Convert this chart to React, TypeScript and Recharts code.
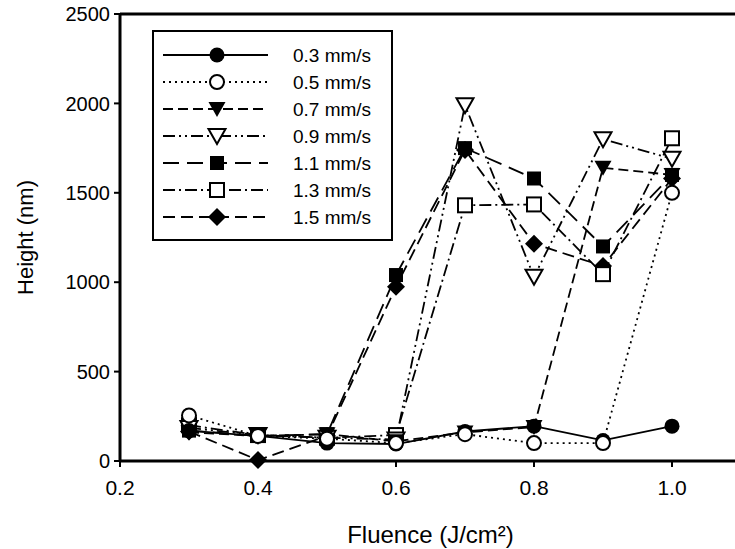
import { LineChart, Line, XAxis, YAxis, ReferenceLine } from "recharts";

// Fluence (J/cm2) and measured height (nm) for each scan speed
const fluence = [0.3, 0.4, 0.5, 0.6, 0.7, 0.8, 0.9, 1.0];
const h03 = [170, 140, 100, 95, 165, 195, 115, 195];
const h05 = [255, 140, 125, 100, 150, 100, 100, 1500];
const h07 = [160, 140, 150, 110, 160, 190, 1640, 1600];
const h09 = [185, 145, 130, 120, 1990, 1030, 1800, 1690];
const h11 = [170, 140, 150, 1040, 1750, 1580, 1200, 1600];
const h13 = [200, 145, 130, 145, 1430, 1435, 1045, 1805];
const h15 = [165, 5, 140, 975, 1740, 1215, 1090, 1580];

const xTicks = [0.2, 0.4, 0.6, 0.8, 1.0];
const yTicks = [0, 500, 1000, 1500, 2000, 2500];

const FONT = '"Liberation Sans", Arial, Helvetica, sans-serif';

const series = [
  { key: "s03", name: "0.3 mm/s", values: h03, dash: undefined, shape: "circleFill" },
  { key: "s05", name: "0.5 mm/s", values: h05, dash: "2 4", shape: "circleOpen" },
  { key: "s07", name: "0.7 mm/s", values: h07, dash: "10 5", shape: "triFill" },
  { key: "s09", name: "0.9 mm/s", values: h09, dash: "12 4 2 4 2 4", shape: "triOpen" },
  { key: "s11", name: "1.1 mm/s", values: h11, dash: "16 8", shape: "squareFill" },
  { key: "s13", name: "1.3 mm/s", values: h13, dash: "12 4 2 4", shape: "squareOpen" },
  { key: "s15", name: "1.5 mm/s", values: h15, dash: "12 6", shape: "diamondFill" },
];

const data = fluence.map((f, i) => {
  const row: Record<string, number> = { f };
  series.forEach((s) => (row[s.key] = s.values[i]));
  return row;
});

// order drawn: later ones sit on top
const drawOrder = ["s15", "s13", "s11", "s09", "s07", "s03", "s05"];

function Marker({ shape, cx, cy }: { shape: string; cx: number; cy: number }) {
  if (cx == null || cy == null) return null;
  switch (shape) {
    case "circleFill":
      return <circle cx={cx} cy={cy} r={7.5} fill="#000" />;
    case "circleOpen":
      return <circle cx={cx} cy={cy} r={7} fill="#fff" stroke="#000" strokeWidth={2} />;
    case "triFill":
      return <polygon points={`${cx - 8.5},${cy - 7} ${cx + 8.5},${cy - 7} ${cx},${cy + 8}`} fill="#000" />;
    case "triOpen":
      return (
        <polygon
          points={`${cx - 8.5},${cy - 7} ${cx + 8.5},${cy - 7} ${cx},${cy + 8}`}
          fill="#fff"
          stroke="#000"
          strokeWidth={2}
        />
      );
    case "squareFill":
      return <rect x={cx - 7} y={cy - 7} width={14} height={14} fill="#000" />;
    case "squareOpen":
      return <rect x={cx - 7} y={cy - 7} width={14} height={14} fill="#fff" stroke="#000" strokeWidth={2} />;
    case "diamondFill":
      return <polygon points={`${cx},${cy - 9} ${cx + 9},${cy} ${cx},${cy + 9} ${cx - 9},${cy}`} fill="#000" />;
    default:
      return null;
  }
}

function LegendBox() {
  return (
    <div style={{ position: "absolute", left: 152, top: 30, width: 241, height: 211 }}>
      <svg width={241} height={211}>
        <rect x={1} y={1} width={239} height={209} fill="#fff" stroke="#000" strokeWidth={2} />
        {series.map((s, i) => {
          const y = 25 + i * 27;
          return (
            <g key={s.key}>
              <line x1={11} x2={116} y1={y} y2={y} stroke="#000" strokeWidth={1.8} strokeDasharray={s.dash} />
              <Marker shape={s.shape} cx={65} cy={y} />
              <text x={141} y={y} dy="0.35em" fontSize={19} fontFamily={FONT} fill="#000">
                {s.name}
              </text>
            </g>
          );
        })}
      </svg>
    </div>
  );
}

export default function App() {
  return (
    <div
      style={{ position: "absolute", left: 0, top: 0, width: 735, height: 549, overflow: "hidden", background: "#fff" }}
    >
      <LineChart width={741} height={549} data={data} margin={{ top: 14, right: 0, bottom: 0, left: 0 }}>
        <XAxis
          dataKey="f"
          type="number"
          domain={[0.2, 1.1]}
          ticks={xTicks}
          allowDataOverflow
          tickFormatter={(v: number) => v.toFixed(1)}
          height={88}
          tickSize={6}
          tickMargin={13}
          axisLine={{ stroke: "#000", strokeWidth: 3 }}
          tickLine={{ stroke: "#000", strokeWidth: 2 }}
          tick={{ fill: "#000", fontSize: 21, fontFamily: FONT }}
          label={{
            value: "Fluence (J/cm²)",
            position: "insideBottom",
            offset: 6,
            fill: "#000",
            fontSize: 24,
            fontFamily: FONT,
          }}
        />
        <YAxis
          type="number"
          domain={[0, 2500]}
          ticks={yTicks}
          width={120}
          tickSize={6}
          tickMargin={4}
          axisLine={{ stroke: "#000", strokeWidth: 3 }}
          tickLine={{ stroke: "#000", strokeWidth: 2 }}
          tick={{ fill: "#000", fontSize: 20, fontFamily: FONT }}
          label={{
            value: "Height (nm)",
            angle: -90,
            position: "insideLeft",
            offset: 25,
            fill: "#000",
            fontSize: 22,
            fontFamily: FONT,
            style: { textAnchor: "middle" },
          }}
        />
        <ReferenceLine y={2500} stroke="#000" strokeWidth={3} />
        {drawOrder.map((k) => {
          const s = series.find((x) => x.key === k)!;
          return (
            <Line
              key={s.key}
              dataKey={s.key}
              name={s.name}
              type="linear"
              stroke="#000"
              strokeWidth={1.8}
              strokeDasharray={s.dash}
              isAnimationActive={false}
              dot={(p: any) => <Marker key={`${s.key}-${p.index}`} shape={s.shape} cx={p.cx} cy={p.cy} />}
              activeDot={false}
            />
          );
        })}
      </LineChart>
      <LegendBox />
    </div>
  );
}
